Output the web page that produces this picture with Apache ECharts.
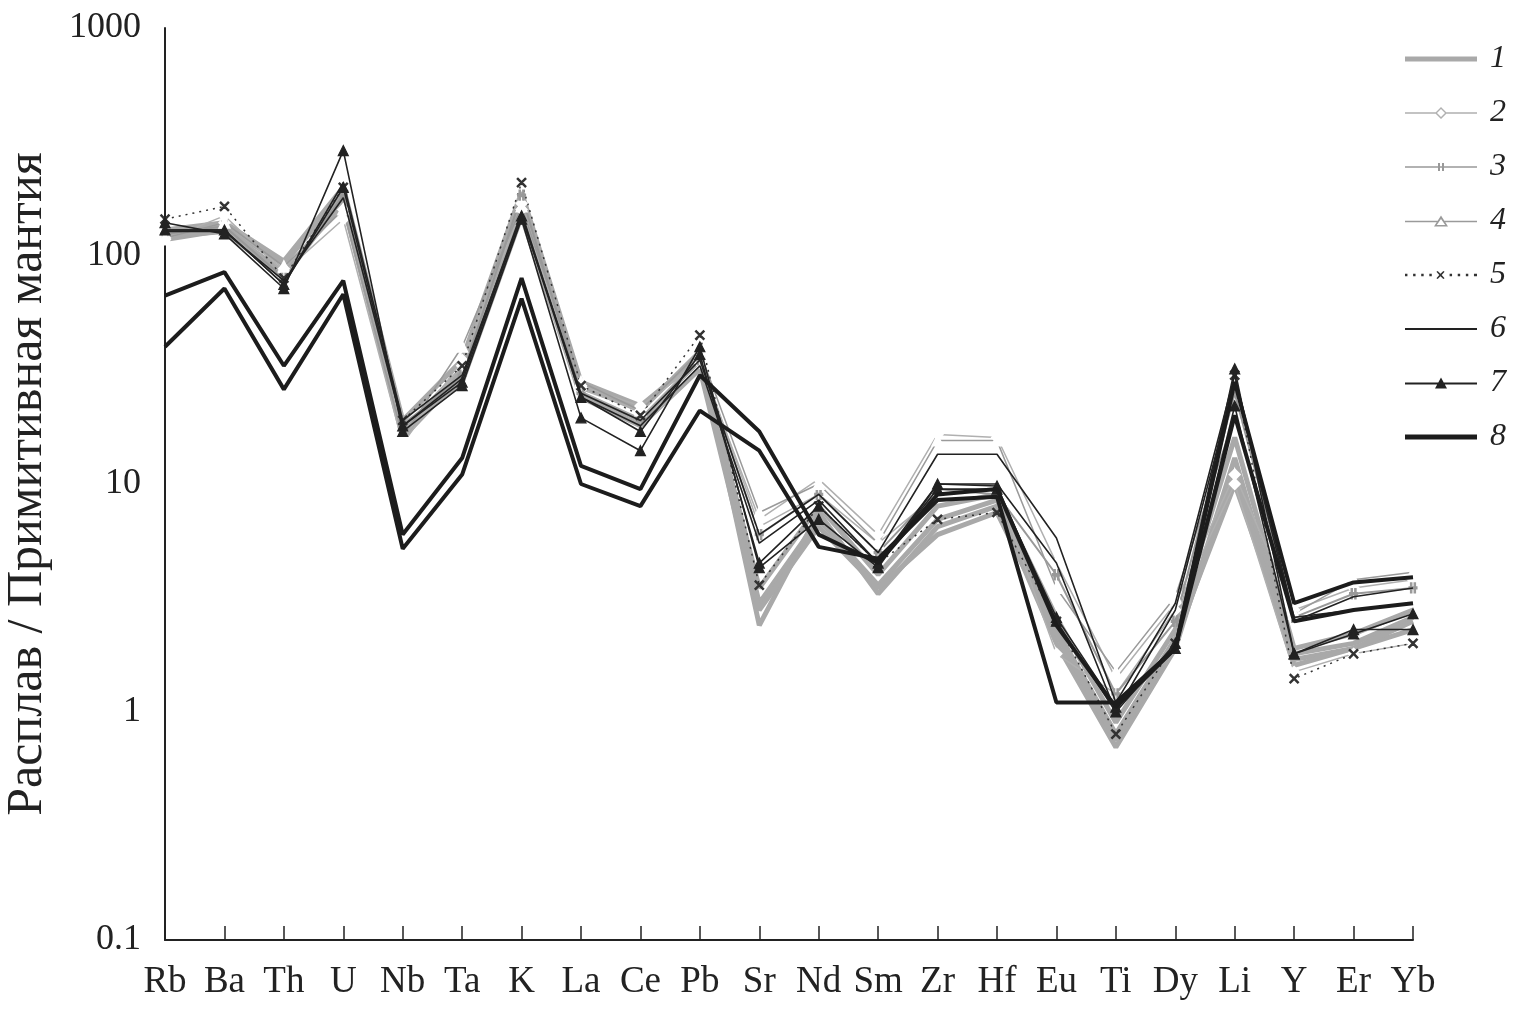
<!DOCTYPE html>
<html>
<head>
<meta charset="utf-8">
<script src="https://cdn.jsdelivr.net/npm/echarts@6/dist/echarts.min.js"></script>
<style>html,body{margin:0;padding:0;background:#fff}#c{width:1536px;height:1009px}</style>
</head>
<body>
<div id="c"></div>
<script>
var categories = ['Rb','Ba','Th','U','Nb','Ta','K','La','Ce','Pb','Sr','Nd','Sm','Zr','Hf','Eu','Ti','Dy','Li','Y','Er','Yb'];
var yTicks = [0.1, 1, 10, 100, 1000];
var legendNames = ['1','2','3','4','5','6','7','8'];

// group 1 (thick grey)
var s1a = [125,135,92,190,17,32,175,27,21,38,2.4,7.5,3.3,6.5,8,2.0,0.7,1.9,13,1.7,1.9,2.3];
var s1b = [118,130,85,170,16,30,160,25,19,35,3.0,7.0,3.6,7,8.5,2.3,0.8,2.1,10,1.8,2.0,2.6];
var s1c = [130,140,95,200,19,35,190,28,22,36,3.5,8,4,8,9,2.6,0.9,2.3,16,1.9,2.2,2.8];
var s1d = [122,128,80,180,18,28,150,24,18,32,2.8,6.5,3.5,6,7.5,2.2,0.75,2.0,11,1.6,1.9,2.5];
// group 2
var s2a = [118,150,85,145,15,35,160,27,22,34,7,10.5,6,16.5,16,4.5,1.4,3,11,2.8,3.5,3.8];
var s2b = [120,140,88,160,16,33,170,26,21,36,6.5,9,5.5,9,9.5,1.8,1.2,2.8,10,1.5,1.8,2.0];
// group 3
var s3a = [125,135,80,185,18,30,185,25,19,35,6,9,5,9.5,9,4,1.2,2.5,25,2.6,3.3,3.5];
// group 4
var s4a = [120,140,90,160,16,40,165,28,21,38,7.5,10,5.5,15.5,15.5,3.5,1.5,3.2,20,2.7,3.8,4.1];
// group 5
var s5a = [145,165,80,200,19,33,210,27,20,45,3.6,8,4.5,7,7.5,2.5,0.8,2,30,1.4,1.8,2.0];
// group 6
var s6a = [130,130,75,210,19,30,150,25,19,35,6,9,5,13.5,13.5,5.8,1.1,3,30,2.6,2.8,3.0];
var s6b = [128,128,78,180,18,29,155,24,18,33,5.5,8.5,4.5,10,10,4.5,1.0,2.8,28,2.5,3.2,3.5];
// group 7
var s7a = [140,125,72,290,17,27,145,19.5,14,40,4.3,7,4.3,10,9.8,2.5,1.0,2.0,32,1.8,2.3,2.3];
var s7b = [130,130,75,200,18,28,150,24,17,37,4.5,8,4.5,9.5,9.5,2.6,1.05,1.9,22,1.8,2.2,2.7];
// group 8 (thick black)
var s8a = [67,85,33,78,6,13,80,12,9.5,30,17,6,4.5,9,9.5,2.4,1.05,1.9,28,3.0,3.7,3.9];
var s8b = [40,72,26,68,5.2,11,65,10,8,21,14,5.3,4.7,8.5,8.8,1.1,1.1,1.9,20,2.5,2.8,3.0];

var symPlus = 'path://M0,0h2v10h-2z M5,0h2v10h-2z M-2,4h11v2h-11z';
var symCross = 'path://M0,1L1,0L5,4L9,0L10,1L6,5L10,9L9,10L5,6L1,10L0,9L4,5z';

function ser(name, data, o) {
  return {
    name: name, type: 'line', data: data, animation: false,
    symbol: o.symbol || 'none', symbolSize: o.size || 9,
    showSymbol: !!o.symbol,
    lineStyle: { color: o.color, width: o.width, type: o.type || 'solid' },
    itemStyle: { color: o.fill || o.color, borderColor: o.color, borderWidth: 1.2 },
    z: o.z || 2
  };
}

var g1 = { color: '#a9a9a9', width: 5, z: 1 };
var g2 = { color: '#b0b0b0', width: 1.5, symbol: 'emptyDiamond', fill: '#fff', size: 10 };
var g3 = { color: '#999', width: 2, symbol: symPlus, size: [8, 10] };
var g4 = { color: '#9a9a9a', width: 1.5, symbol: 'emptyTriangle', fill: '#fff', size: 10 };
var g5 = { color: '#333', width: 1.5, type: [2, 5], symbol: symCross, size: 9 };
var g6 = { color: '#222', width: 1.6, z: 3 };
var g7 = { color: '#222', width: 1.6, symbol: 'triangle', size: 10, z: 3 };
var g8 = { color: '#1c1c1c', width: 4, z: 4 };

var series = [
  ser('1', s1a, g1), ser('1', s1b, g1), ser('1', s1c, g1), ser('1', s1d, g1),
  ser('2', s2a, g2), ser('2', s2b, g2),
  ser('3', s3a, g3),
  ser('4', s4a, g4),
  ser('5', s5a, g5),
  ser('6', s6a, g6), ser('6', s6b, g6),
  ser('7', s7a, g7), ser('7', s7b, g7),
  ser('8', s8a, g8), ser('8', s8b, g8)
];

// legend key glyphs (72 x 14 box)
var legendIcons = [
  'path://M0,4.5h72v5h-72z',
  'path://M0,6.3h30.5v1.4h-30.5z M41.5,6.3h30.5v1.4h-30.5z M36,1L42,7L36,13L30,7Z M36,3L32,7L36,11L40,7Z',
  'path://M0,6.2h72v1.6h-72z M33,3h2v8h-2z M37,3h2v8h-2z',
  'path://M0,6.3h32.5v1.4h-32.5z M39.5,6.3h32.5v1.4h-32.5z M36,1L43,12L29,12Z M36,4.5L31.8,10.5L40.2,10.5Z',
  'path://M1,5.8h2.4v2.4h-2.4z M9,5.8h2.4v2.4h-2.4z M17,5.8h2.4v2.4h-2.4z M25,5.8h2.4v2.4h-2.4z M45,5.8h2.4v2.4h-2.4z M53,5.8h2.4v2.4h-2.4z M61,5.8h2.4v2.4h-2.4z M69,5.8h3v2.4h-3z M32,3.8L33.2,3L36,5.8L38.8,3L40,3.8L37.2,7L40,10.2L38.8,11L36,8.2L33.2,11L32,10.2L34.8,7Z',
  'path://M0,6h72v2h-72z',
  'path://M0,6.1h72v1.8h-72z M36,1L42,12L30,12Z',
  'path://M0,4.5h72v5h-72z'
];
var legendColors = ['#a9a9a9','#b0b0b0','#999','#9a9a9a','#333','#222','#222','#1c1c1c'];
var legendData = legendNames.map(function (n, i) {
  return { name: n, icon: legendIcons[i], itemStyle: { color: legendColors[i], borderWidth: 0 } };
});

var chart = echarts.init(document.getElementById('c'), null, { renderer: 'canvas' });
chart.setOption({
  backgroundColor: '#fff',
  animation: false,
  grid: { left: 165, top: 28, right: 123, bottom: 69, containLabel: false, outerBoundsMode: 'none' },
  legend: {
    data: legendData, orient: 'vertical', left: 1400, top: 38,
    itemWidth: 72, itemHeight: 14, itemGap: 22, symbolKeepAspect: true,
    textStyle: { fontFamily: 'Liberation Serif', fontStyle: 'italic', fontSize: 32, color: '#222', padding: [0,0,0,8] },
    selectedMode: false
  },
  xAxis: {
    type: 'category', data: categories, boundaryGap: false,
    axisLine: { lineStyle: { color: '#222', width: 2 } },
    axisTick: { inside: true, length: 14, interval: 0, lineStyle: { color: '#222', width: 1.5 } },
    axisLabel: { interval: 0, margin: 24, fontFamily: 'Liberation Serif', fontSize: 37, color: '#222' },
    splitLine: { show: false }
  },
  yAxis: {
    type: 'log', logBase: 10, min: yTicks[0], max: yTicks[yTicks.length - 1],
    name: 'Расплав / Примитивная мантия', nameLocation: 'middle', nameGap: 112,
    nameTextStyle: { fontFamily: 'Liberation Serif', fontSize: 50, color: '#222' },
    axisLine: { show: true, lineStyle: { color: '#222', width: 2 } },
    axisTick: { inside: true, length: 16, lineStyle: { color: '#222', width: 1.5 } },
    axisLabel: { margin: 24, fontFamily: 'Liberation Serif', fontSize: 36, color: '#222',
      formatter: function (v) { return String(+v.toPrecision(3)); } },
    splitLine: { show: false }, minorTick: { show: false }
  },
  series: series
});
</script>
</body>
</html>
